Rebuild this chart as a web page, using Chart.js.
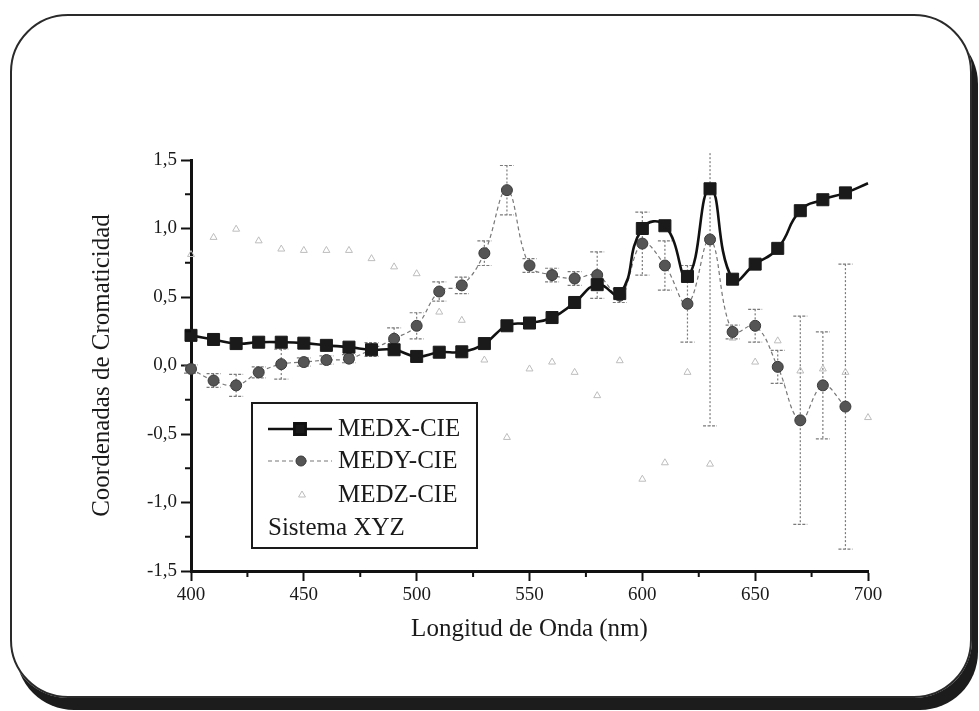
<!DOCTYPE html>
<html>
<head>
<meta charset="utf-8">
<script src="https://cdn.jsdelivr.net/npm/chart.js@4.4.0/dist/chart.umd.min.js"></script>
<style>
html, body { margin: 0; padding: 0; background: #fff; }
body { width: 979px; height: 711px; position: relative; overflow: hidden; }
#frame {
    position: absolute; left: 10px; top: 14px;
    width: 958px; height: 680px;
    border: 2px solid #2a2a2a; border-radius: 58px;
    box-shadow: 6px 12px 0 #1c1c1c;
}
#chart { position: absolute; left: 0; top: 0; }
</style>
</head>
<body>
<div id="frame"></div>
<canvas id="chart" width="979" height="711"></canvas>
<script>
// wavelength (nm)
const wavelengths = [400,410,420,430,440,450,460,470,480,490,500,510,520,530,540,550,560,570,580,590,600,610,620,630,640,650,660,670,680,690,700];

const medx = [0.22,0.19,0.16,0.17,0.17,0.163,0.147,0.134,0.115,0.115,0.066,0.097,0.10,0.16,0.29,0.31,0.35,0.46,0.59,0.525,1.00,1.02,0.65,1.29,0.63,0.74,0.855,1.13,1.21,1.26,1.33];

// MEDY stops at 690
const medy = [-0.025,-0.11,-0.145,-0.05,0.01,0.025,0.04,0.05,0.117,0.195,0.29,0.54,0.585,0.82,1.28,0.73,0.66,0.635,0.66,0.51,0.89,0.73,0.45,0.92,0.245,0.29,-0.01,-0.40,-0.145,-0.30];
const medyErr = [0.03,0.05,0.08,0.04,0.11,0.03,0.03,0.03,0.05,0.08,0.095,0.07,0.06,0.09,0.18,0.05,0.05,0.05,0.17,0.05,0.23,0.18,0.28,1.36,0.05,0.12,0.12,0.76,0.39,1.04];

const medz = [0.81,0.935,0.995,0.91,0.85,0.84,0.84,0.84,0.78,0.72,0.67,0.39,0.33,0.04,-0.525,-0.025,0.025,-0.05,-0.22,0.035,-0.83,-0.71,-0.05,-0.72,0.2,0.025,0.18,-0.04,-0.025,-0.05,-0.38];

const xTicks = [400,450,500,550,600,650,700];
const yTicks = [-1.5,-1.0,-0.5,0.0,0.5,1.0,1.5];

const serif = '"Liberation Serif", "Times New Roman", serif';

function pts(vals){
    return vals.map((v,i) => ({ x: wavelengths[i], y: v }));
}

// error bars for MEDY, drawn under the markers
const errorBars = {
    id: 'errorBars',
    beforeDatasetsDraw(chart){
        const {ctx, chartArea, scales:{x, y}} = chart;
        ctx.save();
        ctx.beginPath();
        ctx.rect(chartArea.left - 20, chartArea.top - 8, chartArea.width + 40, chartArea.height + 8);
        ctx.clip();
        ctx.strokeStyle = '#7a7a7a';
        ctx.lineWidth = 1.2;
        medy.forEach((v,i) => {
            const px = x.getPixelForValue(wavelengths[i]);
            const top = y.getPixelForValue(v + medyErr[i]);
            const bot = y.getPixelForValue(v - medyErr[i]);
            ctx.setLineDash([2,2]);
            ctx.beginPath();
            ctx.moveTo(px, top); ctx.lineTo(px, bot);
            ctx.stroke();
            ctx.setLineDash([3,1.5]);
            ctx.beginPath();
            ctx.moveTo(px - 7, top); ctx.lineTo(px + 7, top);
            ctx.moveTo(px - 7, bot); ctx.lineTo(px + 7, bot);
            ctx.stroke();
        });
        ctx.restore();
    }
};

// minor ticks between the labelled ones
const minorTicks = {
    id: 'minorTicks',
    afterDraw(chart){
        const {ctx, scales:{x, y}} = chart;
        ctx.save();
        ctx.strokeStyle = '#111';
        ctx.lineWidth = 2;
        ctx.beginPath();
        for(let i = 0; i < xTicks.length - 1; i++){
            const px = x.getPixelForValue((xTicks[i] + xTicks[i+1]) / 2);
            ctx.moveTo(px, y.bottom); ctx.lineTo(px, y.bottom + 6);
        }
        for(let i = 0; i < yTicks.length - 1; i++){
            const py = y.getPixelForValue((yTicks[i] + yTicks[i+1]) / 2);
            ctx.moveTo(x.left, py); ctx.lineTo(x.left - 6, py);
        }
        ctx.stroke();
        ctx.restore();
    }
};

// boxed legend like the original
const legendBox = {
    id: 'legendBox',
    afterDraw(chart){
        const ctx = chart.ctx;
        const ds = chart.data.datasets;
        const draw = Chart.helpers.drawPoint;
        ctx.save();
        ctx.fillStyle = '#fff';
        ctx.fillRect(252, 403, 225, 145);
        ctx.strokeStyle = '#1a1a1a';
        ctx.lineWidth = 2;
        ctx.strokeRect(252, 403, 225, 145);

        ctx.font = '25px ' + serif;
        ctx.textBaseline = 'middle';
        ctx.fillStyle = '#1a1a1a';

        // MEDX
        ctx.strokeStyle = ds[0].borderColor;
        ctx.lineWidth = ds[0].borderWidth;
        ctx.beginPath(); ctx.moveTo(268, 429); ctx.lineTo(332, 429); ctx.stroke();
        ctx.fillStyle = ds[0].pointBackgroundColor;
        draw(ctx, {pointStyle: 'rect', radius: 8, borderWidth: 1}, 300, 429);
        ctx.fillStyle = '#1a1a1a';
        ctx.fillText(ds[0].label, 338, 429);

        // MEDY
        ctx.strokeStyle = ds[1].borderColor;
        ctx.lineWidth = ds[1].borderWidth;
        ctx.setLineDash(ds[1].borderDash);
        ctx.beginPath(); ctx.moveTo(268, 461); ctx.lineTo(332, 461); ctx.stroke();
        ctx.setLineDash([]);
        ctx.fillStyle = ds[1].pointBackgroundColor;
        ctx.strokeStyle = ds[1].pointBorderColor;
        ctx.lineWidth = 1;
        draw(ctx, {pointStyle: 'circle', radius: 5, borderWidth: 1}, 301, 461);
        ctx.fillStyle = '#1a1a1a';
        ctx.fillText(ds[1].label, 338, 461);

        // MEDZ
        ctx.strokeStyle = ds[2].pointBorderColor;
        ctx.fillStyle = 'rgba(0,0,0,0)';
        draw(ctx, {pointStyle: 'triangle', radius: 4, borderWidth: 1}, 302, 495);
        ctx.fillStyle = '#1a1a1a';
        ctx.fillText(ds[2].label, 338, 495);

        ctx.fillText('Sistema XYZ', 268, 528);
        ctx.restore();
    }
};

new Chart(document.getElementById('chart'), {
    type: 'line',
    data: {
        datasets: [
            {
                label: 'MEDX-CIE',
                data: pts(medx),
                borderColor: '#111',
                borderWidth: 2.6,
                tension: 0.5,
                pointStyle: 'rect',
                pointRadius: ctx => ctx.dataIndex === medx.length - 1 ? 0 : 8.5,
                pointBackgroundColor: '#1a1a1a',
                pointBorderColor: '#1a1a1a',
                pointBorderWidth: 1,
                clip: false
            },
            {
                label: 'MEDY-CIE',
                data: pts(medy),
                borderColor: '#777',
                borderWidth: 1.2,
                borderDash: [4,3],
                tension: 0.4,
                pointStyle: 'circle',
                pointRadius: 5.5,
                pointBackgroundColor: '#555',
                pointBorderColor: '#3a3a3a',
                pointBorderWidth: 1,
                clip: false
            },
            {
                label: 'MEDZ-CIE',
                data: pts(medz),
                showLine: false,
                pointStyle: 'triangle',
                pointRadius: 4,
                pointBackgroundColor: 'rgba(0,0,0,0)',
                pointBorderColor: '#bdbdbd',
                pointBorderWidth: 1,
                clip: false
            }
        ]
    },
    options: {
        responsive: false,
        animation: false,
        events: [],
        layout: { padding: { left: 0, top: 160, right: 111, bottom: 0 } },
        plugins: { legend: { display: false }, tooltip: { enabled: false } },
        scales: {
            x: {
                type: 'linear', min: 400, max: 700,
                ticks: {
                    stepSize: 50, autoSkip: false, maxRotation: 0, padding: 3,
                    color: '#1a1a1a', font: { family: serif, size: 19 }
                },
                grid: { drawOnChartArea: false, tickLength: 10, tickWidth: 2, tickColor: '#111' },
                border: { color: '#111', width: 3 },
                title: {
                    display: true, text: 'Longitud de Onda (nm)', color: '#1a1a1a',
                    font: { family: serif, size: 25 }, padding: { top: 0, bottom: 67 }
                },
                afterFit(scale){ scale.height = 140; }
            },
            y: {
                type: 'linear', min: -1.5, max: 1.5,
                ticks: {
                    stepSize: 0.5, padding: 4, color: '#1a1a1a',
                    font: { family: serif, size: 19 },
                    callback: v => v.toFixed(1).replace('.', ',')
                },
                grid: { drawOnChartArea: false, tickLength: 10, tickWidth: 2, tickColor: '#111' },
                border: { color: '#111', width: 3 },
                title: {
                    display: true, text: 'Coordenadas de Cromaticidad', color: '#1a1a1a',
                    font: { family: serif, size: 25 }, padding: { top: 87, bottom: 0 }
                },
                afterFit(scale){ scale.width = 191; }
            }
        }
    },
    plugins: [errorBars, minorTicks, legendBox]
});
</script>
</body>
